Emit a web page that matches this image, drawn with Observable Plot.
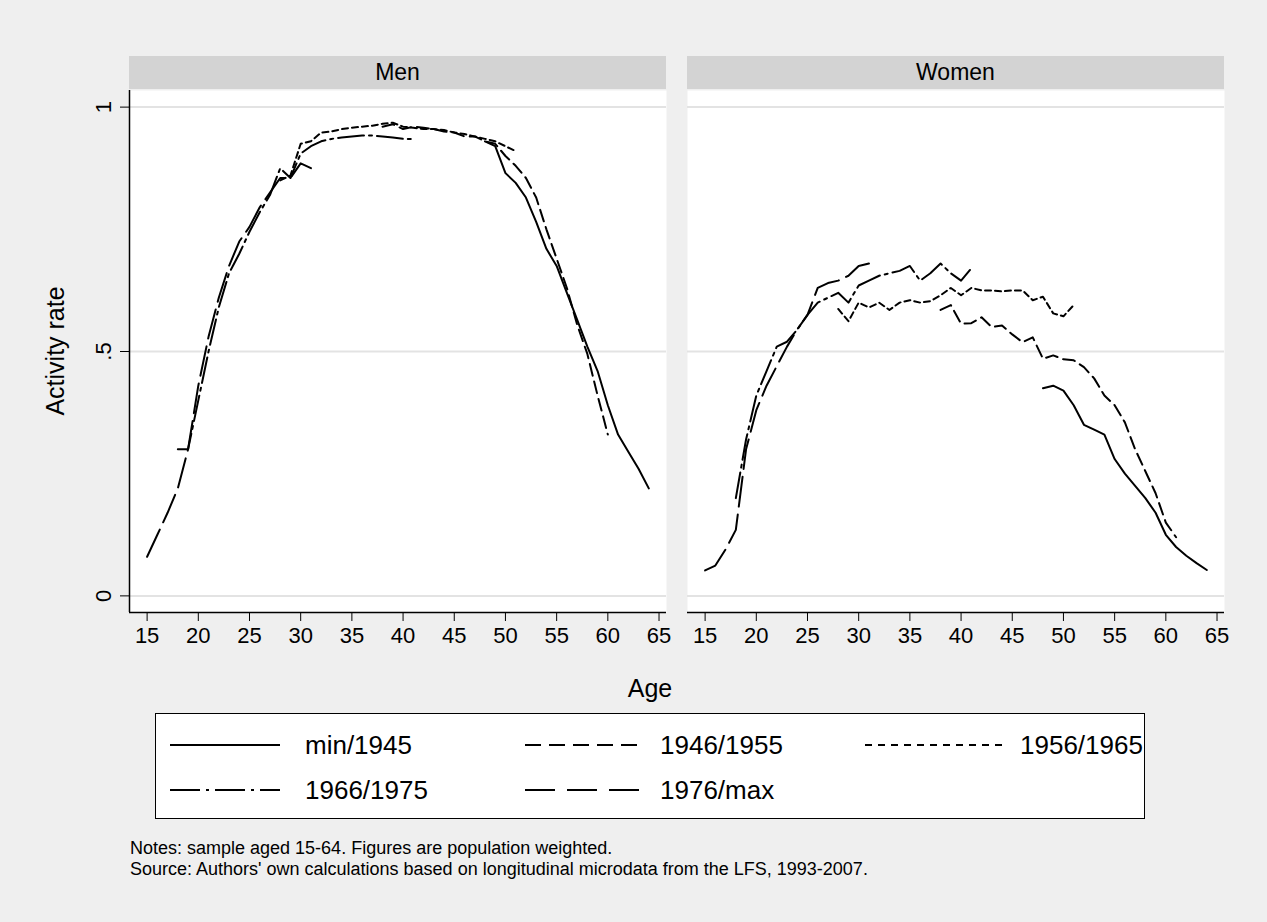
<!DOCTYPE html>
<html><head><meta charset="utf-8">
<script src="https://cdn.jsdelivr.net/npm/d3@7"></script>
<script src="https://cdn.jsdelivr.net/npm/@observablehq/plot@0.6"></script>
<style>
html,body{margin:0;padding:0;background:#efefef;}
body{width:1267px;height:922px;position:relative;overflow:hidden;font-family:"Liberation Sans",Arial,sans-serif;color:#000;}
#chart{position:absolute;left:0;top:0;}
.strip{position:absolute;background:#d3d3d3;text-align:center;font-size:23px;display:flex;align-items:center;justify-content:center;}
.title{position:absolute;font-size:25px;white-space:nowrap;}
#legend{position:absolute;left:155px;top:713px;width:990px;height:106px;border:1.5px solid #000;background:#fff;box-sizing:border-box;}
.sample{position:absolute;transform:translateY(-50%);}
.ltext{position:absolute;transform:translateY(-50%);font-size:26px;white-space:nowrap;}
.notes{position:absolute;left:130px;font-size:18px;white-space:nowrap;}
</style>
</head><body>
<div id="chart"></div>
<script>
// ---------- data ----------
const sexes = ["Men", "Women"];
const cohorts = ["min/1945", "1946/1955", "1956/1965", "1966/1975", "1976/max"];
const xTicks = [15, 20, 25, 30, 35, 40, 45, 50, 55, 60, 65];
const yTicks = [0, 0.5, 1];
const yTickLabels = ["0", ".5", "1"];

const agesMin1945 = [48,49,50,51,52,53,54,55,56,57,58,59,60,61,62,63,64];
const ages1946_1955Men = [38,39,40,41,42,43,44,45,46,47,48,49,50,51,52,53,54,55,56,57,58,59,60];
const ages1946_1955Women = [38,39,40,41,42,43,44,45,46,47,48,49,50,51,52,53,54,55,56,57,58,59,60,61];
const ages1956_1965 = [28,29,30,31,32,33,34,35,36,37,38,39,40,41,42,43,44,45,46,47,48,49,50,51];
const ages1966_1975 = [18,19,20,21,22,23,24,25,26,27,28,29,30,31,32,33,34,35,36,37,38,39,40,41];
const ages1976_max = [15,16,17,18,19,20,21,22,23,24,25,26,27,28,29,30,31];

const menMin1945 = [0.93,0.92,0.865,0.845,0.815,0.765,0.71,0.675,0.62,0.565,0.51,0.46,0.39,0.33,0.295,0.26,0.22];
const men1946_1955 = [0.96,0.965,0.955,0.96,0.958,0.955,0.95,0.948,0.94,0.94,0.93,0.925,0.90,0.88,0.855,0.815,0.75,0.69,0.63,0.555,0.495,0.41,0.33];
const men1956_1965 = [0.85,0.86,0.925,0.93,0.948,0.95,0.955,0.958,0.96,0.962,0.966,0.968,0.96,0.958,0.955,0.955,0.953,0.948,0.945,0.94,0.935,0.93,0.92,0.91];
const men1966_1975 = [0.30,0.30,0.40,0.50,0.59,0.66,0.70,0.745,0.785,0.82,0.875,0.855,0.905,0.92,0.93,0.935,0.938,0.94,0.942,0.942,0.94,0.938,0.935,0.935];
const men1976_max = [0.08,0.125,0.17,0.22,0.30,0.43,0.53,0.61,0.675,0.725,0.755,0.795,0.825,0.855,0.855,0.885,0.875];

const womenMin1945 = [0.425,0.43,0.42,0.39,0.35,0.34,0.33,0.28,0.25,0.225,0.20,0.17,0.125,0.10,0.082,0.067,0.053];
const women1946_1955 = [0.585,0.595,0.557,0.558,0.57,0.55,0.553,0.535,0.519,0.529,0.485,0.492,0.484,0.482,0.468,0.445,0.41,0.39,0.355,0.30,0.255,0.21,0.15,0.12];
const women1956_1965 = [0.587,0.562,0.60,0.59,0.60,0.585,0.60,0.605,0.60,0.603,0.615,0.63,0.615,0.63,0.625,0.625,0.623,0.625,0.625,0.605,0.612,0.578,0.572,0.595];
const women1966_1975 = [0.20,0.32,0.41,0.46,0.51,0.52,0.545,0.575,0.60,0.61,0.62,0.60,0.635,0.645,0.655,0.66,0.665,0.675,0.645,0.66,0.68,0.66,0.645,0.67];
const women1976_max = [0.052,0.062,0.095,0.135,0.30,0.38,0.43,0.47,0.51,0.545,0.575,0.63,0.64,0.645,0.655,0.675,0.68];

const series = [
  {sex: "Men", cohort: "min/1945", ages: agesMin1945, rates: menMin1945},
  {sex: "Men", cohort: "1946/1955", ages: ages1946_1955Men, rates: men1946_1955},
  {sex: "Men", cohort: "1956/1965", ages: ages1956_1965, rates: men1956_1965},
  {sex: "Men", cohort: "1966/1975", ages: ages1966_1975, rates: men1966_1975},
  {sex: "Men", cohort: "1976/max", ages: ages1976_max, rates: men1976_max},
  {sex: "Women", cohort: "min/1945", ages: agesMin1945, rates: womenMin1945},
  {sex: "Women", cohort: "1946/1955", ages: ages1946_1955Women, rates: women1946_1955},
  {sex: "Women", cohort: "1956/1965", ages: ages1956_1965, rates: women1956_1965},
  {sex: "Women", cohort: "1966/1975", ages: ages1966_1975, rates: women1966_1975},
  {sex: "Women", cohort: "1976/max", ages: ages1976_max, rates: women1976_max}
];
const rows = series.flatMap(s => s.ages.map((a, i) => ({sex: s.sex, cohort: s.cohort, age: a, rate: s.rates[i]})));

// ---------- styles ----------
const dashes = {"min/1945": null, "1946/1955": "12,6", "1956/1965": "6,4", "1966/1975": "26,5,3,5", "1976/max": "30,8"};
const legendDashes = {"min/1945": null, "1946/1955": "16,8", "1956/1965": "7,6", "1966/1975": "30,6,3,6", "1976/max": "30,12"};
const xDomain = [13.28, 65.73];
const yDomain = [-0.034, 1.034];
const font = '"Liberation Sans", Arial, sans-serif';

const plot = Plot.plot({
  width: 1267, height: 712,
  marginLeft: 129, marginRight: 42, marginTop: 90, marginBottom: 100,
  style: {background: "transparent", fontFamily: font, fontSize: "22px", color: "#000", overflow: "visible"},
  fx: {domain: sexes, paddingInner: 0.0376, paddingOuter: 0, axis: null, label: null},
  x: {domain: xDomain},
  y: {domain: yDomain},
  marks: [
    Plot.frame({fill: "#fff", stroke: null}),
    Plot.gridY(yTicks, {stroke: "#e3e3e3", strokeOpacity: 1, strokeWidth: 2}),
    Plot.ruleY([yDomain[0]], {stroke: "#000", strokeWidth: 1.5}),
    Plot.ruleX([{sex: "Men", x: xDomain[0]}], {x: "x", fx: "sex", stroke: "#000", strokeWidth: 1.5}),
    Plot.axisX({ticks: xTicks, tickSize: 9, tickPadding: 6, fontSize: 22, label: null, stroke: "#000"}),
    Plot.axisY({ticks: yTicks, tickFormat: d => yTickLabels[yTicks.indexOf(d)], tickSize: 9, tickPadding: 10, tickRotate: -90, fontSize: 22, label: null}),
    ...cohorts.map(c => Plot.line(rows.filter(d => d.cohort === c), {
      x: "age", y: "rate", fx: "sex", z: "sex",
      stroke: "#000", strokeWidth: 2, strokeDasharray: dashes[c]
    }))
  ]
});
document.getElementById("chart").appendChild(plot);

// facet strips
const fx = plot.scale("fx");
for (const s of sexes) {
  const d = document.createElement("div");
  d.className = "strip";
  d.style.left = fx.apply(s) + "px";
  d.style.width = fx.bandwidth + "px";
  d.style.top = "56px";
  d.style.height = "33px";
  d.textContent = s;
  document.body.appendChild(d);
}

// axis titles
const yt = document.createElement("div");
yt.className = "title";
yt.textContent = "Activity rate";
yt.style.left = "55px"; yt.style.top = "351px";
yt.style.transform = "translate(-50%,-50%) rotate(-90deg)";
document.body.appendChild(yt);
const xt = document.createElement("div");
xt.className = "title";
xt.textContent = "Age";
xt.style.left = "650px"; xt.style.top = "688px";
xt.style.transform = "translate(-50%,-50%)";
document.body.appendChild(xt);

// legend
const legend = document.createElement("div");
legend.id = "legend";
document.body.appendChild(legend);
const rowY = [31, 76];
const items = [
  {c: "min/1945", row: 0, x1: 14, w: 110, tx: 149},
  {c: "1946/1955", row: 0, x1: 369, w: 116, tx: 504},
  {c: "1956/1965", row: 0, x1: 709, w: 140, tx: 864},
  {c: "1966/1975", row: 1, x1: 14, w: 110, tx: 149},
  {c: "1976/max", row: 1, x1: 369, w: 116, tx: 504}
];
for (const it of items) {
  const sv = document.createElementNS("http://www.w3.org/2000/svg", "svg");
  sv.setAttribute("class", "sample");
  sv.setAttribute("width", it.w); sv.setAttribute("height", 6);
  sv.style.left = it.x1 + "px"; sv.style.top = rowY[it.row] + "px";
  sv.innerHTML = `<line x1="0" y1="3" x2="${it.w}" y2="3" stroke="#000" stroke-width="2" ${legendDashes[it.c] ? `stroke-dasharray="${legendDashes[it.c]}"` : ""}/>`;
  legend.appendChild(sv);
  const t = document.createElement("div");
  t.className = "ltext";
  t.textContent = it.c;
  t.style.left = it.tx + "px"; t.style.top = rowY[it.row] + "px";
  legend.appendChild(t);
}

// notes
const notes = ["Notes: sample aged 15-64. Figures are population weighted.",
  "Source: Authors' own calculations based on longitudinal microdata from the LFS, 1993-2007."];
notes.forEach((t, i) => {
  const n = document.createElement("div");
  n.className = "notes";
  n.textContent = t;
  n.style.top = (838 + i * 21) + "px";
  document.body.appendChild(n);
});
</script>
</body></html>
